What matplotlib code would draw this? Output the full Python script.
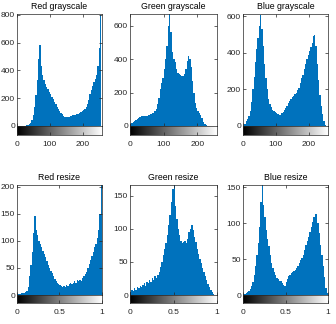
import numpy as np
import matplotlib
matplotlib.use("Agg")
import matplotlib.pyplot as plt

plt.rcParams['font.family'] = ['Liberation Sans', 'DejaVu Sans']

titles = ["Red grayscale", "Green grayscale", "Blue grayscale",
          "Red resize", "Green resize", "Blue resize"]

red_gray = [0, 0, 0, 0, 1, 2, 3, 5, 8, 15, 25, 45, 80, 140, 220, 330,
            480, 580, 430, 370, 330, 300, 280, 265, 245, 230, 210, 195, 175, 160, 140, 125,
            110, 95, 85, 75, 65, 62, 65, 68, 72, 75, 78, 80, 82, 85, 88, 92,
            98, 105, 115, 125, 140, 160, 190, 230, 260, 285, 315, 340, 370, 430, 560, 800]
green_gray = [12, 18, 25, 30, 38, 42, 50, 55, 58, 62, 60, 58, 62, 65, 68, 70,
              75, 80, 88, 100, 130, 170, 220, 260, 290, 340, 400, 480, 600, 670, 560, 440,
              400, 380, 340, 320, 310, 305, 300, 300, 310, 340, 390, 420, 400, 350, 270, 200,
              140, 110, 90, 80, 65, 45, 25, 10, 3, 0, 0, 0, 0, 0, 0, 0]
blue_gray = [2, 10, 25, 40, 55, 80, 130, 200, 270, 350, 420, 480, 550, 610, 530, 440,
             340, 260, 200, 150, 120, 105, 90, 82, 75, 70, 65, 60, 62, 70, 78, 88,
             100, 110, 125, 135, 148, 158, 165, 175, 182, 195, 210, 235, 260, 280, 310, 340,
             365, 390, 410, 430, 455, 490, 500, 440, 340, 250, 170, 110, 65, 25, 6, 0]
red_resize = [1, 2, 2, 3, 3, 4, 5, 8, 15, 35, 55, 80, 115, 145, 120, 110,
              100, 95, 88, 82, 75, 70, 62, 55, 50, 45, 40, 35, 30, 25, 22, 20,
              18, 16, 15, 17, 14, 18, 16, 20, 22, 20, 23, 25, 22, 28, 25, 27,
              26, 32, 35, 38, 42, 50, 58, 65, 72, 80, 88, 95, 105, 120, 150, 205]
green_resize = [5, 8, 6, 10, 8, 12, 10, 14, 12, 15, 18, 14, 20, 18, 22, 20,
                25, 22, 28, 25, 30, 35, 42, 50, 60, 70, 78, 90, 105, 120, 140, 160,
                166, 135, 115, 100, 90, 82, 78, 80, 82, 78, 85, 95, 100, 105, 98, 88,
                80, 70, 62, 55, 48, 40, 35, 28, 22, 17, 12, 8, 4, 1, 0, 0]
blue_resize = [1, 2, 3, 4, 6, 9, 12, 18, 28, 40, 55, 72, 95, 130, 153, 125,
               108, 90, 78, 68, 55, 45, 38, 32, 28, 24, 22, 20, 19, 17, 14, 13,
               18, 22, 26, 28, 30, 32, 34, 35, 37, 40, 44, 48, 52, 55, 62, 70,
               75, 80, 88, 95, 102, 108, 113, 112, 100, 86, 70, 55, 40, 25, 10, 3]

series = [red_gray, green_gray, blue_gray, red_resize, green_resize, blue_resize]
ymax = [805, 670, 613, 203, 166, 153]
yticks = [[0, 200, 400, 600, 800], [0, 200, 400, 600], [0, 200, 400, 600],
          [0, 50, 100, 150, 200], [0, 50, 100, 150], [0, 50, 100, 150]]
xticks_gray = [0, 100, 200]
xticks_resize = [0, 0.5, 1]
xticklabels_gray = ["0", "100", "200"]
xticklabels_resize = ["0", "0.5", "1"]

W, H = 336, 324
fig = plt.figure(figsize=(W / 100, H / 100), dpi=100)

cols = [(17, 102), (130, 217), (243, 328)]
rows = [(14, 126, 135), (185, 295, 303)]
blue = '#0072BD'
axc = '#262626'

for k in range(6):
    r, c = divmod(k, 3)
    x0, x1 = cols[c]
    top, bot, gbot = rows[r]
    data = np.array(series[k], dtype=float)
    if r == 0:
        xmax = 258.0
        edges = np.linspace(0, 256, len(data) + 1)
        xt, xtl = xticks_gray, xticklabels_gray
    else:
        xmax = 1.0
        edges = np.linspace(0, 1, len(data) + 1)
        xt, xtl = xticks_resize, xticklabels_resize
    ax = fig.add_axes([x0 / W, 1 - bot / H, (x1 - x0) / W, (bot - top) / H])
    ax.bar(edges[:-1], data, width=np.diff(edges), align='edge', color=blue,
           linewidth=0)
    ax.set_xlim(0, xmax)
    ax.set_ylim(0, ymax[k])
    ax.set_yticks(yticks[k])
    ax.set_xticks(xt)
    ax.set_xticklabels([])
    ax.tick_params(direction='in', length=2, width=0.5, top=True, right=True,
                   labelsize=6, colors=axc, pad=1.5)
    for s in ax.spines.values():
        s.set_linewidth(0.5)
        s.set_color(axc)
    ax.set_title(titles[k], fontsize=6.3, pad=3.5, color='black')

    gax = fig.add_axes([x0 / W, 1 - gbot / H, (x1 - x0) / W, (gbot - bot) / H])
    grad = np.linspace(0, 1, 256)[None, :]
    gax.imshow(grad, cmap='gray', aspect='auto', extent=[0, xmax, 0, 1],
               interpolation='bilinear')
    gax.set_xlim(0, xmax)
    gax.set_ylim(0, 1)
    gax.set_yticks([])
    gax.set_xticks(xt)
    gax.set_xticklabels(xtl)
    gax.tick_params(direction='in', length=2, width=0.5, labelsize=6,
                    colors=axc, pad=4)
    for s in gax.spines.values():
        s.set_linewidth(0.5)
        s.set_color(axc)

fig.savefig("out.png", dpi=100)
